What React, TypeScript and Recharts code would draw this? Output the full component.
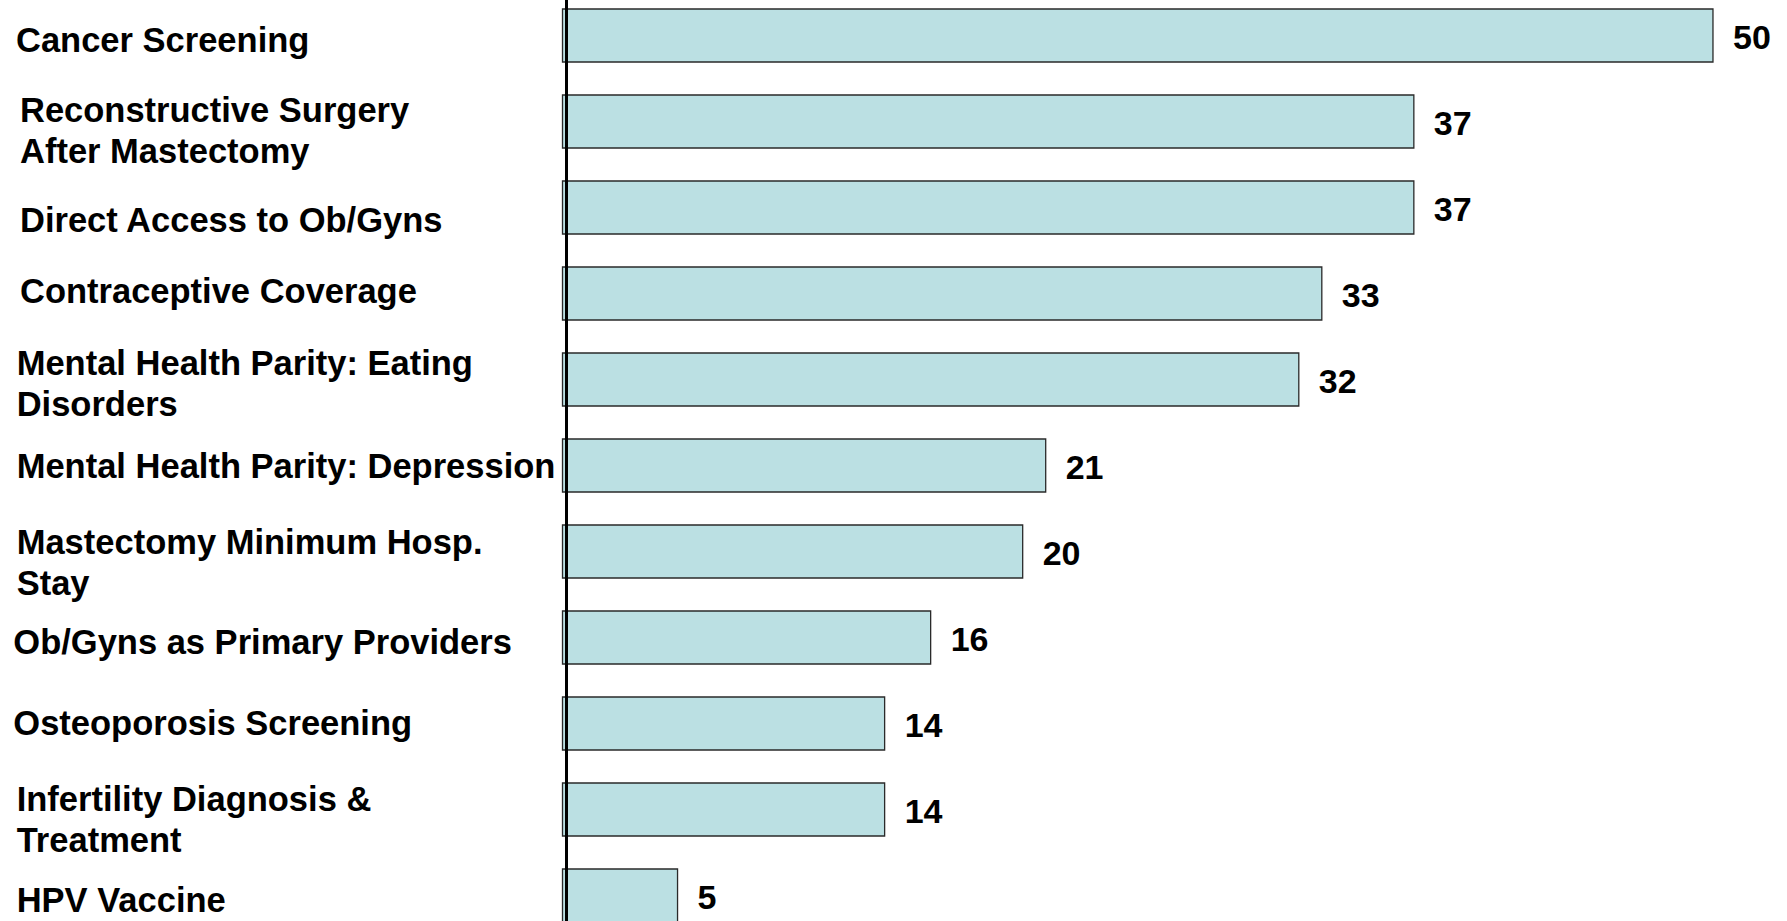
import React from "react";
import { BarChart, Bar, XAxis, YAxis, LabelList, ReferenceLine } from "recharts";

// Mandated benefit categories (line breaks mark where each label wraps)
const categories: string[] = [
  "Cancer Screening",
  "Reconstructive Surgery\nAfter Mastectomy",
  "Direct Access to Ob/Gyns",
  "Contraceptive Coverage",
  "Mental Health Parity: Eating\nDisorders",
  "Mental Health Parity: Depression",
  "Mastectomy Minimum Hosp.\nStay",
  "Ob/Gyns as Primary Providers",
  "Osteoporosis Screening",
  "Infertility Diagnosis &\nTreatment",
  "HPV Vaccine",
];

// Number of states with each mandate
const stateCounts: number[] = [50, 37, 37, 33, 32, 21, 20, 16, 14, 14, 5];

// Small per-label nudges for the category text boxes (left indent, vertical shift)
const labelIndent: number[] = [16, 20, 20, 20, 16.7, 16.7, 16.7, 13.3, 13.3, 16.7, 16.7];
const labelShift: number[] = [5, 9, 13, -2, 4, 1, 11, 5, 0, 10, 5];

const data = categories.map((name, i) => ({ name, value: stateCounts[i] }));

const FONT = "'Liberation Sans', Arial, Helvetica, sans-serif";
const CAT_SIZE = 34.5;
const VAL_SIZE = 34;
const LINE_GAP = 41.5;

const CategoryTick = (props: any) => {
  const { y, payload } = props;
  const idx = categories.indexOf(payload.value);
  const lines = String(payload.value).split("\n");
  const x0 = labelIndent[idx] ?? 16;
  const center = y + (labelShift[idx] ?? 0);
  const first = center - ((lines.length - 1) * LINE_GAP) / 2 + CAT_SIZE * 0.358;
  return (
    <g>
      {lines.map((ln, k) => (
        <text
          key={k}
          x={x0}
          y={first + k * LINE_GAP}
          fontFamily={FONT}
          fontWeight="bold"
          fontSize={CAT_SIZE}
          fill="#000"
          textAnchor="start"
        >
          {ln}
        </text>
      ))}
    </g>
  );
};

const ValueLabel = (props: any) => {
  const { x, y, width, height, value } = props;
  return (
    <text
      x={x + width + 20}
      y={y + height / 2 + 1.5 + VAL_SIZE * 0.358}
      fontFamily={FONT}
      fontWeight="bold"
      fontSize={VAL_SIZE}
      fill="#000"
      textAnchor="start"
    >
      {value}
    </text>
  );
};

export default function App() {
  return (
    <div
      style={{
        position: "absolute",
        left: 0,
        top: 0,
        width: 1787,
        height: 921,
        overflow: "hidden",
        background: "#fff",
      }}
    >
      <div style={{ marginTop: -8 }}>
        <BarChart
          width={1787}
          height={946}
          data={data}
          layout="vertical"
          margin={{ top: 0, right: 5, bottom: 0, left: 0 }}
        >
          <XAxis type="number" domain={[0, 53]} hide />
          <YAxis
            type="category"
            dataKey="name"
            width={562.5}
            axisLine={false}
            tickLine={false}
            interval={0}
            tick={<CategoryTick />}
          />
          <Bar
            dataKey="value"
            fill="#BBE0E3"
            stroke="#2a2a2a"
            strokeWidth={1.3}
            barSize={53}
            isAnimationActive={false}
          >
            <LabelList dataKey="value" content={<ValueLabel />} />
          </Bar>
          <ReferenceLine x={0.174} stroke="#000" strokeWidth={3} />
        </BarChart>
      </div>
    </div>
  );
}
